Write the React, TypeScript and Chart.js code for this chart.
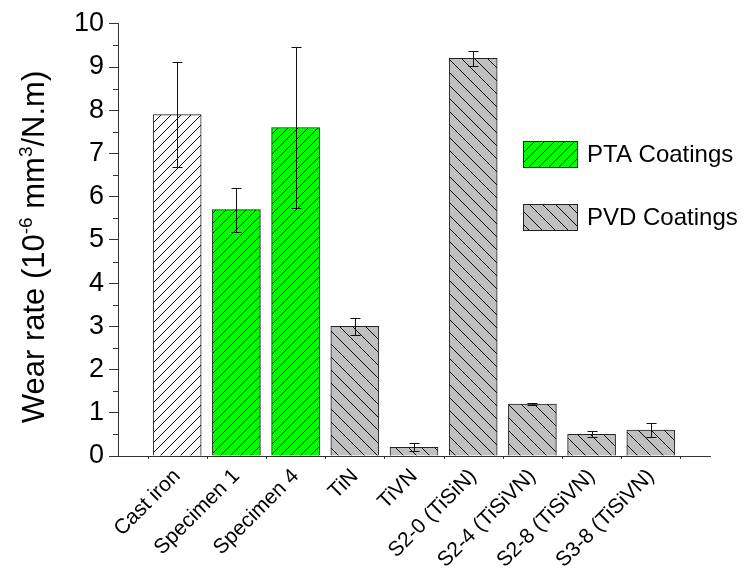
import React, { useEffect, useRef } from "react";
import { Chart, registerables } from "chart.js";

Chart.register(...registerables);

const FONT = '"Liberation Sans", Arial, Helvetica, sans-serif';

// Wear rate per sample (10^-6 mm^3/N.m) with standard deviation
const categories = [
  "Cast iron",
  "Specimen 1",
  "Specimen 4",
  "TiN",
  "TiVN",
  "S2-0 (TiSiN)",
  "S2-4 (TiSiVN)",
  "S2-8 (TiSiVN)",
  "S3-8 (TiSiVN)",
];
const wearRate = [7.9, 5.7, 7.6, 3.0, 0.2, 9.2, 1.2, 0.5, 0.6];
const wearError = [1.21, 0.51, 1.87, 0.2, 0.09, 0.17, 0.02, 0.07, 0.17];
const coatingType = ["base", "PTA", "PTA", "PVD", "PVD", "PVD", "PVD", "PVD", "PVD"];

const seriesLabels: Record<string, string> = {
  base: "Cast iron",
  PTA: "PTA Coatings",
  PVD: "PVD Coatings",
};
const legendOrder = ["PTA", "PVD"];

const yMin = 0;
const yMax = 10;
const yStep = 1;

function hatch(bg: string, dir: "/" | "\\", size: number): CanvasPattern {
  const c = document.createElement("canvas");
  c.width = size;
  c.height = size;
  const g = c.getContext("2d")!;
  g.fillStyle = bg;
  g.fillRect(0, 0, size, size);
  g.strokeStyle = "#000";
  g.lineWidth = 1;
  g.beginPath();
  for (const k of [-1, 0, 1]) {
    if (dir === "/") {
      g.moveTo(k * size, size);
      g.lineTo(k * size + size, 0);
    } else {
      g.moveTo(k * size, 0);
      g.lineTo(k * size + size, size);
    }
  }
  g.stroke();
  return g.createPattern(c, "repeat")!;
}

const errorBars = {
  id: "errorBars",
  afterDatasetsDraw(chart: any) {
    const { ctx } = chart;
    const ys = chart.scales.y;
    ctx.save();
    ctx.strokeStyle = "#111";
    ctx.lineWidth = 1;
    chart.data.datasets.forEach((ds: any, di: number) => {
      const meta = chart.getDatasetMeta(di);
      meta.data.forEach((bar: any, j: number) => {
        const d = ds.data[j];
        const x = Math.round(bar.x) + 0.5;
        const top = Math.round(ys.getPixelForValue(d.y + d.err)) + 0.5;
        const bot = Math.round(ys.getPixelForValue(d.y - d.err)) + 0.5;
        ctx.beginPath();
        ctx.moveTo(x, top);
        ctx.lineTo(x, bot);
        ctx.moveTo(x - 5, top);
        ctx.lineTo(x + 5, top);
        ctx.moveTo(x - 5, bot);
        ctx.lineTo(x + 5, bot);
        ctx.stroke();
      });
    });
    ctx.restore();
  },
};

const axisExtras = {
  id: "axisExtras",
  afterDraw(chart: any) {
    const { ctx, chartArea } = chart;
    const ys = chart.scales.y;
    const xs = chart.scales.x;
    ctx.save();
    ctx.strokeStyle = "#333";
    ctx.lineWidth = 1;
    ctx.beginPath();
    // minor ticks on the value axis
    for (let v = yMin + yStep / 2; v < yMax; v += yStep) {
      const py = Math.round(ys.getPixelForValue(v)) + 0.5;
      ctx.moveTo(chartArea.left - 5, py);
      ctx.lineTo(chartArea.left, py);
    }
    // small ticks between categories
    for (let i = -1; i < categories.length; i++) {
      const px = Math.round(xs.getPixelForValue(i + 0.5)) + 0.5;
      ctx.moveTo(px, chartArea.bottom);
      ctx.lineTo(px, chartArea.bottom + 3);
    }
    ctx.stroke();
    ctx.restore();
  },
};

const yTitle = {
  id: "yTitle",
  afterDraw(chart: any) {
    const { ctx } = chart;
    const parts: [string, boolean][] = [
      ["Wear rate (10", false],
      ["-6", true],
      [" mm", false],
      ["3", true],
      ["/N.m)", false],
    ];
    const big = `31px ${FONT}`;
    const small = `19px ${FONT}`;
    ctx.save();
    let total = 0;
    for (const [t, sup] of parts) {
      ctx.font = sup ? small : big;
      total += ctx.measureText(t).width;
    }
    ctx.translate(25, 239);
    ctx.rotate(-Math.PI / 2);
    ctx.fillStyle = "#000";
    ctx.textBaseline = "alphabetic";
    ctx.textAlign = "left";
    let x = -total / 2;
    for (const [t, sup] of parts) {
      ctx.font = sup ? small : big;
      ctx.fillText(t, x, sup ? -1 : 11);
      x += ctx.measureText(t).width;
    }
    ctx.restore();
  },
};

const boxLegend = {
  id: "boxLegend",
  afterDraw(chart: any) {
    const { ctx } = chart;
    ctx.save();
    ctx.font = `24px ${FONT}`;
    ctx.textBaseline = "middle";
    ctx.fillStyle = "#000";
    legendOrder.forEach((key, i) => {
      const ds = chart.data.datasets.find((d: any) => d.label === seriesLabels[key]);
      const bx = 515;
      const by = 133 + i * 63;
      ctx.fillStyle = ds.backgroundColor;
      ctx.fillRect(bx, by, 55, 27);
      ctx.strokeStyle = "#222";
      ctx.lineWidth = 1;
      ctx.strokeRect(bx + 0.5, by + 0.5, 54, 26);
      ctx.fillStyle = "#000";
      ctx.fillText(ds.label, bx + 64, by + 14);
    });
    ctx.restore();
  },
};

function pointsFor(type: string) {
  return categories
    .map((_, i) => i)
    .filter((i) => coatingType[i] === type)
    .map((i) => ({ x: i, y: wearRate[i], err: wearError[i] }));
}

export default function App() {
  const ref = useRef<HTMLCanvasElement>(null);

  useEffect(() => {
    if (!ref.current) return;
    const fills: Record<string, CanvasPattern> = {
      base: hatch("#ffffff", "/", 10),
      PTA: hatch("#00ff00", "/", 10),
      PVD: hatch("#c0c0c0", "\\", 13),
    };
    const chart = new Chart(ref.current, {
      type: "bar",
      data: {
        datasets: ["base", "PTA", "PVD"].map((k) => ({
          label: seriesLabels[k],
          data: pointsFor(k) as any,
          backgroundColor: fills[k] as any,
          borderColor: "#222",
          borderWidth: 1,
          barThickness: 48,
          grouped: false,
        })),
      },
      options: {
        responsive: false,
        animation: false,
        layout: { padding: { top: 11, right: 31, bottom: 0, left: 0 } },
        plugins: {
          legend: { display: false },
          tooltip: { enabled: false },
          title: { display: false },
        },
        scales: {
          x: {
            type: "linear",
            offset: false,
            min: -1,
            max: categories.length,
            z: 1,
            grid: { display: false, offset: false },
            border: { display: true, color: "#333", width: 1 },
            afterFit: (s: any) => {
              s.height = 117;
            },
            ticks: {
              stepSize: 1,
              autoSkip: false,
              minRotation: 45,
              maxRotation: 45,
              padding: 0,
              color: "#000",
              font: { family: FONT, size: 21 },
              callback: (v: any) => categories[v as number] ?? "",
            },
          },
          y: {
            min: yMin,
            max: yMax,
            afterFit: (s: any) => {
              s.width = 110;
            },
            grid: {
              display: true,
              drawOnChartArea: false,
              drawTicks: true,
              tickLength: 9,
              tickColor: "#333",
            },
            border: { display: true, color: "#333", width: 1 },
            ticks: {
              stepSize: yStep,
              padding: 5,
              color: "#000",
              font: { family: FONT, size: 27, lineHeight: 0.8 },
            },
          },
        },
      },
      plugins: [errorBars, axisExtras, yTitle, boxLegend],
    });
    return () => chart.destroy();
  }, []);

  return (
    <div style={{ width: 733, height: 565 }}>
      <canvas ref={ref} width={733} height={565} style={{ display: "block" }} />
    </div>
  );
}
